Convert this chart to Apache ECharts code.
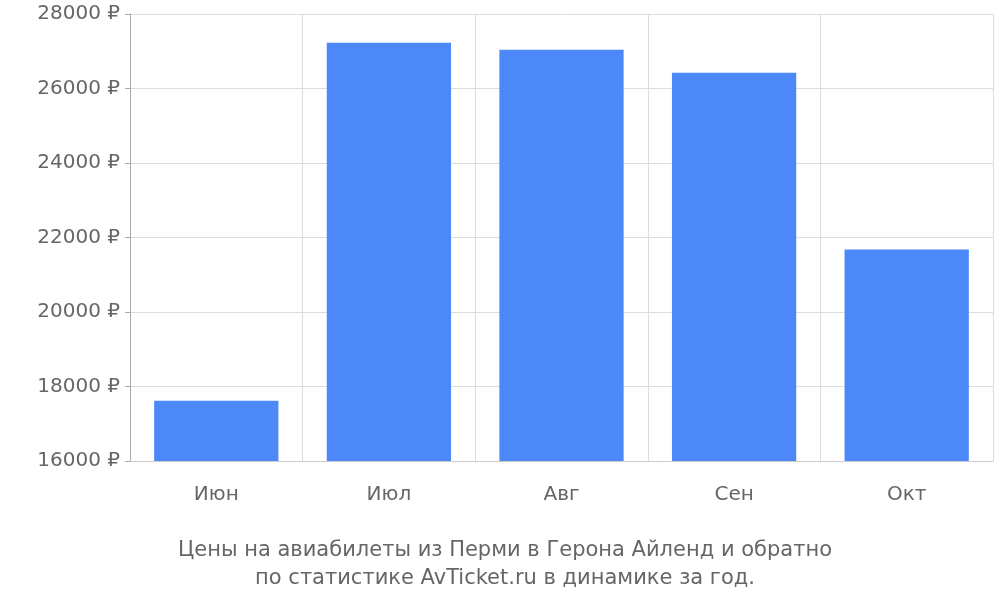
<!DOCTYPE html>
<html>
<head>
<meta charset="utf-8">
<script src="https://cdn.jsdelivr.net/npm/echarts@6/dist/echarts.min.js"></script>
<style>html,body{margin:0;padding:0;background:#fff}#item1{width:1000px;height:600px}</style>
</head>
<body>
<div id="item1"></div>
<script>
var months = ['Июн', 'Июл', 'Авг', 'Сен', 'Окт'];
var prices = [17620, 27230, 27040, 26420, 21680];
var yTicks = { min: 16000, max: 28000, interval: 2000 };

var myChart = echarts.init(document.getElementById('item1'));
var font = 'DejaVu Sans';
var option = {
    title: {
        text: 'Цены на авиабилеты из Перми в Герона Айленд и обратно\nпо статистике AvTicket.ru в динамике за год.',
        left: 500, top: 532, textAlign: 'center',
        textStyle: { color: '#666', fontSize: 21, fontWeight: 'normal', fontFamily: font, lineHeight: 28 }
    },
    grid: { left: 130, right: 7, top: 14, bottom: 139 },
    xAxis: {
        type: 'category',
        data: months,
        axisLine: { lineStyle: { color: '#ccc' } },
        axisTick: { length: 19, lineStyle: { color: '#ccc' } },
        splitLine: { show: true, lineStyle: { color: '#ddd' } },
        axisLabel: { color: '#666', fontSize: 20, fontFamily: font, margin: 24 }
    },
    yAxis: {
        type: 'value',
        min: yTicks.min, max: yTicks.max, interval: yTicks.interval,
        axisLine: { show: true, lineStyle: { color: '#aaa' } },
        axisTick: { show: true, length: 5, lineStyle: { color: '#aaa' } },
        splitLine: { lineStyle: { color: '#ddd' } },
        axisLabel: { color: '#666', fontSize: 20, fontFamily: font, margin: 10,
            formatter: function (v) { return v + ' ₽'; } }
    },
    series: [{
        type: 'bar',
        data: prices,
        barWidth: '72%',
        itemStyle: { color: '#4d88f9' }
    }]
};
myChart.setOption(option);
</script>
</body>
</html>
